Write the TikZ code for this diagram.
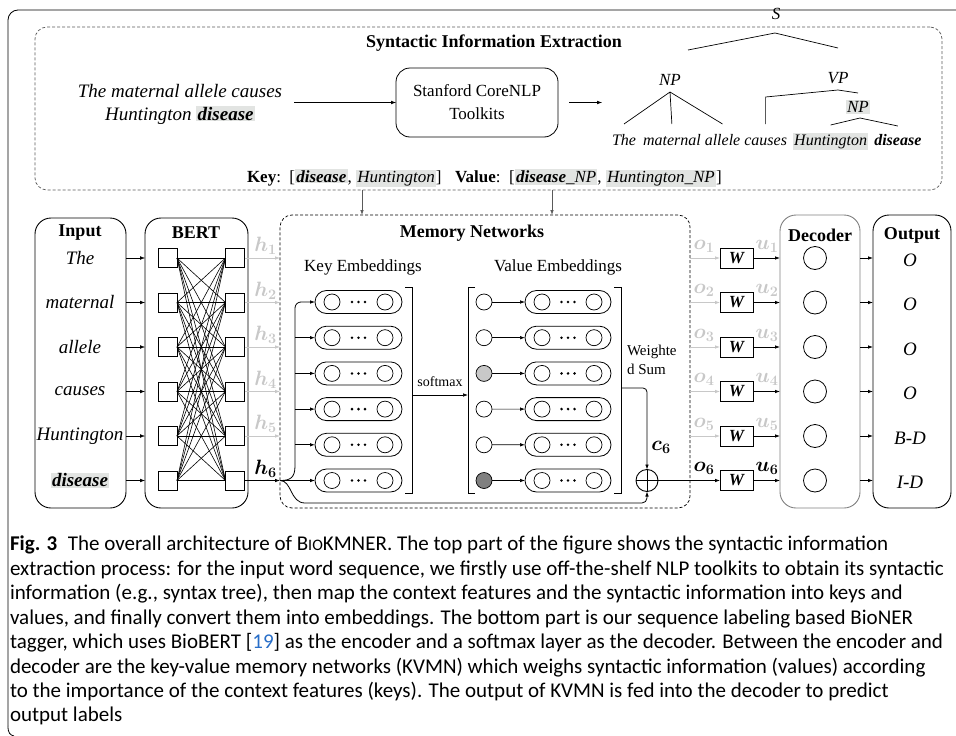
\documentclass[tikz,border=0pt]{standalone}
\usepackage{amsmath}
\usepackage{fontspec}
\setmainfont{Liberation Serif}
\newfontfamily\capfont{Carlito}
\usetikzlibrary{arrows.meta,calc}
\definecolor{hlgray}{RGB}{226,228,226}
\definecolor{lgray}{RGB}{200,200,200}
\definecolor{dgray}{RGB}{90,90,90}
\definecolor{linkblue}{RGB}{40,110,200}
\newcommand\hl[1]{{\setlength{\fboxsep}{1.2pt}\colorbox{hlgray}{#1}}}
\newcommand\bi[1]{\textbf{\textit{#1}}}
\newcommand\bv[2]{$\boldsymbol{#1}_{\boldsymbol{#2}}$}
\begin{document}
\begin{tikzpicture}[x=1pt,y=-1pt,
 arr/.style={-{Latex[length=5pt,width=3.6pt]}},
 every node/.style={inner sep=0pt, outer sep=0pt},
 sq/.style={draw, minimum size=19pt, line width=0.7pt},
 pill/.style={draw, rounded corners=11.5pt, minimum height=23pt, line width=0.8pt},
 ecirc/.style={draw, circle, minimum size=16pt, line width=0.7pt},
 dcirc/.style={draw, circle, minimum size=23pt, line width=0.8pt},
 wbox/.style={draw, minimum width=33pt, minimum height=20pt, line width=0.8pt, font=\bfseries\itshape\fontsize{17}{17}\selectfont},
 bigbox/.style={draw, rounded corners=16pt, line width=0.9pt},
 dbox/.style={draw, dashed, dash pattern=on 3pt off 2pt, line width=0.7pt, rounded corners=12pt},
 lab/.style={font=\fontsize{17}{17}\selectfont},
 vlab/.style={font=\fontsize{20}{20}\selectfont},
 ttl/.style={font=\bfseries\fontsize{18}{18}\selectfont},
 itl/.style={font=\itshape\fontsize{19}{19}\selectfont},
 tre/.style={font=\itshape\fontsize{17}{17}\selectfont},
 leaf/.style={anchor=base west, font=\itshape\fontsize{16}{16}\selectfont},
 captxt/.style={anchor=base west, font=\capfont\fontsize{21}{24}\selectfont},
]
\useasboundingbox (0,0) rectangle (956,736);
% outer frame
\draw[line width=0.8pt, rounded corners=10pt] (957,10) -- (8,10) -- (8,726);
\draw[line width=0.8pt] (8,726) .. controls (8,733) and (10,735) .. (14,736);

% ---------- top part ----------
\node[dbox, draw=dgray, minimum width=907pt, minimum height=163pt] (topbox) at (488.5,108.5) {};
\node[ttl] (title) at (494,43) {Syntactic Information Extraction};
\node[align=center, font=\itshape\fontsize{19}{23}\selectfont] (sent) at (180,104) {The maternal allele causes\\Huntington \hl{\textbf{disease}}};
\node[draw, rounded corners=14pt, line width=0.8pt, minimum width=162pt, minimum height=69pt, align=center, font=\fontsize{17}{23}\selectfont] (stan) at (477,102.5) {Stanford CoreNLP\\Toolkits};
\draw[arr] ([xshift=12pt]sent.east |- stan.west) -- (stan.west);
% tree
\node[tre] (S) at (776,14) {S};
\node[tre] (np1) at (670,80) {NP};
\node[tre] (vp) at (838,78) {VP};
\node[tre] (np2) at (858,107) {\hl{NP}};
\node[leaf] (l1) at (612,145) {The};
\node[leaf] (l2) at ([xshift=7pt]l1.base east) {maternal};
\node[leaf] (l3) at ([xshift=4pt]l2.base east) {allele};
\node[leaf] (l4) at ([xshift=4pt]l3.base east) {causes};
\node[leaf] (l5) at (793,145) {\hl{Huntington}};
\node[leaf] (l6) at ([xshift=6pt]l5.base east) {\textbf{disease}};
\draw[arr] ([xshift=11pt]stan.east) -- ([xshift=-10pt]l1.north west |- stan.east);
\coordinate (sA) at (775,33); \coordinate (sL) at (688,50); \coordinate (sR) at (838,48);
\draw[line width=0.7pt] (sL) -- (sA) -- (sR);
\coordinate (nA) at (670,92);
\draw[line width=0.7pt] (nA) -- (l1.north |- 0,124) (nA) -- (l2.north |- 0,124) (nA) -- (l3.north |- 0,124);
\draw[line width=0.7pt] (l4.north |- 0,124) -- (l4.north |- 0,97) -- (838,90) -- (858,93);
\draw[line width=0.7pt] (l5.north |- 0,125) -- (860,118) -- (l6.north |- 0,126);
\node[lab, anchor=west] (key) at (247,178) {\textbf{Key}:\enspace[\hl{\bi{disease}}, \hl{\textit{Huntington}}]};
\node[lab, anchor=west] (val) at (455,178) {\textbf{Value}:\enspace[\hl{\bi{disease}\_\textit{NP}}, \hl{\textit{Huntington\_NP}}]};

% ---------- bottom part ----------
\node[bigbox, minimum width=91pt, minimum height=290pt] (inp) at (80.5,363) {};
\node[bigbox, minimum width=103pt, minimum height=290pt] (bert) at (196.5,363) {};
\node[dbox, minimum width=410pt, minimum height=293pt] (mem) at (485,361.5) {};
\node[bigbox, draw=gray, minimum width=80pt, minimum height=293pt] (dec) at (820,361.5) {};
\node[bigbox, minimum width=78pt, minimum height=293pt] (out) at (912,361.5) {};
\node[ttl] at (80,233) {Input};
\node[ttl] at (196,233) {BERT};
\node[ttl] at (472,233) {Memory Networks};
\node[ttl] at (820,235) {Decoder};
\node[ttl] at (912,235) {Output};

\coordinate (kx) at (362,0); \coordinate (vx) at (552,0);
\draw[arr, dgray, line width=0.8pt] (topbox.south -| kx) -- (mem.north -| kx);
\draw[arr, dgray, line width=0.8pt] (topbox.south -| vx) -- (mem.north -| vx);

% input words
\node[itl] (w1) at (80,258) {The};
\node[itl] (w2) at (80,302.5) {maternal};
\node[itl] (w3) at (80,347) {allele};
\node[itl] (w4) at (80,391.5) {causes};
\node[itl] (w5) at (80,436) {Huntington};
\node[itl] (w6) at (80,480.5) {\hl{\textbf{disease}}};

\foreach \i [evaluate=\i as \ry using 258+44.5*(\i-1)] in {1,...,6} {
  \node[sq] (ls\i) at (167.5,\ry) {};
  \node[sq] (rs\i) at (235,\ry) {};
  \draw[arr] (inp.east |- ls\i) -- (bert.west |- ls\i);
}
\foreach \i in {1,...,6} { \foreach \j in {1,...,6} { \draw[line width=0.6pt] (ls\i.east) -- (rs\j.west); } }
\foreach \i in {1,...,5} {
  \draw[arr, lgray, line width=0.8pt] (rs\i.east) -- (mem.west |- rs\i);
  \node[vlab, text=lgray] at ($(rs\i.east)+(21,-12)$) {\bv{h}{\i}};
}
\coordinate (h6end) at (mem.west |- rs6);
\draw[arr, line width=0.8pt] (rs6.east) -- (h6end);
\node[vlab] at ($(rs6.east)+(21,-12)$) {\bv{h}{6}};

% key / value embeddings
\node[lab] at (363,267) {Key Embeddings};
\node[lab] at (558,267) {Value Embeddings};
\foreach \i [evaluate=\i as \ky using 302+35.7*(\i-1)] in {1,...,6} {
  \node[pill, minimum width=87pt] (kp\i) at (358.5,\ky) {};
  \node[ecirc] at (332,\ky) {};
  \node[ecirc] at (385,\ky) {};
  \fill (352,\ky) circle (1.4) (358.5,\ky) circle (1.4) (365,\ky) circle (1.4);
  \node[pill, minimum width=86pt] (vp\i) at (568,\ky) {};
  \node[ecirc] at (542,\ky) {};
  \node[ecirc] at (594,\ky) {};
  \fill (561.5,\ky) circle (1.4) (568,\ky) circle (1.4) (574.5,\ky) circle (1.4);
}
\node[ecirc] (vc1) at (484,302) {};
\node[ecirc] (vc2) at (484,337.7) {};
\node[ecirc, fill=lgray] (vc3) at (484,373.4) {};
\node[ecirc] (vc4) at (484,409.1) {};
\node[ecirc] (vc5) at (484,444.8) {};
\node[ecirc, fill=gray] (vc6) at (484,480.5) {};
\foreach \i in {1,...,6} { \draw[arr, line width=0.7pt] (vc\i.east) -- (vp\i.west); }
% brackets
\draw[line width=0.8pt] (405,287) -- (412,287) -- (412,493) -- (405,493);
\draw[line width=0.8pt] (475,287) -- (468,287) -- (468,493) -- (475,493);
\draw[line width=0.8pt] (614,287) -- (621,287) -- (621,493) -- (614,493);
\coordinate (kbr) at (412,395); \coordinate (vbl) at (468,395);
\draw[arr, line width=0.7pt] (kbr) -- (vbl);
\node[font=\fontsize{14}{14}\selectfont] at (440,382) {softmax};
\node[anchor=west, align=left, font=\fontsize{15}{19}\selectfont] at (627,360) {Weighte\\d Sum};
% oplus
\node[draw, circle, minimum size=22pt, line width=0.9pt] (oplus) at (647,480.5) {};
\draw[line width=0.9pt] (oplus.north) -- (oplus.south) (oplus.west) -- (oplus.east);
\coordinate (vbr) at (621,388);
\draw[arr, line width=0.8pt, rounded corners=4pt] (vbr) -| (oplus.north);
\node[vlab] at (661,447) {$\boldsymbol{c}_{\boldsymbol{6}}$};
% trunk to keys
\coordinate (trunk) at (295,0);
\draw[arr, line width=0.8pt] (h6end) .. controls (290,480.5) and (295,478) .. (295,466) [rounded corners=6pt] -- (295,302) -- (kp1.west);
\foreach \i in {2,...,5} { \draw[arr, line width=0.8pt] (kp\i.west -| trunk) -- (kp\i.west); }
\draw[arr, line width=0.8pt] (h6end) -- (kp6.west);
\draw[arr, line width=0.8pt] (h6end) .. controls (292,480.5) and (290,503) .. (305,503) [rounded corners=5pt] -- (647,503) -- (oplus.south);

% right part
\foreach \i [evaluate=\i as \ry using 258+44.5*(\i-1)] in {1,...,6} {
  \node[wbox] (wb\i) at (736.5,\ry) {W};
  \node[dcirc] (dc\i) at (815,\ry) {};
  \draw[arr, line width=0.8pt] (wb\i.east) -- (dec.west |- wb\i);
  \draw[arr, line width=0.8pt] (dec.east |- dc\i) -- (out.west |- dc\i);
}
\foreach \i in {1,...,5} {
  \draw[arr, lgray, line width=0.8pt] (mem.east |- wb\i) -- (wb\i.west);
  \node[vlab, text=lgray] at ($(wb\i.west)+(-16,-12)$) {\bv{o}{\i}};
  \node[vlab, text=lgray] at ($(wb\i.east)+(14,-12)$) {\bv{u}{\i}};
}
\draw[arr, line width=0.8pt] (oplus.east) -- (wb6.west);
\node[vlab] at ($(wb6.west)+(-16,-12)$) {\bv{o}{6}};
\node[vlab] at ($(wb6.east)+(14,-12)$) {\bv{u}{6}};
\node[itl] at (910,260) {O};
\node[itl] at (910,304.5) {O};
\node[itl] at (910,349) {O};
\node[itl] at (910,393.5) {O};
\node[itl] at (910,438) {B-D};
\node[itl] at (910,482.5) {I-D};

% caption
\node[captxt] (c1) at (10,550) {\textbf{Fig. 3}\enspace The overall architecture of B{\fontsize{16}{16}\selectfont IO}KMNER. The top part of the figure shows the syntactic information};
\node[captxt] (c2) at (10,575) {extraction process: for the input word sequence, we firstly use off-the-shelf NLP toolkits to obtain its syntactic};
\node[captxt] (c3) at (10,599) {information (e.g., syntax tree), then map the context features and the syntactic information into keys and};
\node[captxt] (c4) at (10,624) {values, and finally convert them into embeddings. The bottom part is our sequence labeling based BioNER};
\node[captxt] (c5) at (10,648) {tagger, which uses BioBERT [\textcolor{linkblue}{19}] as the encoder and a softmax layer as the decoder. Between the encoder and};
\node[captxt] (c6) at (10,673) {decoder are the key-value memory networks (KVMN) which weighs syntactic information (values) according};
\node[captxt] (c7) at (10,697) {to the importance of the context features (keys). The output of KVMN is fed into the decoder to predict};
\node[captxt] (c8) at (10,721) {output labels};
\end{tikzpicture}
\end{document}
